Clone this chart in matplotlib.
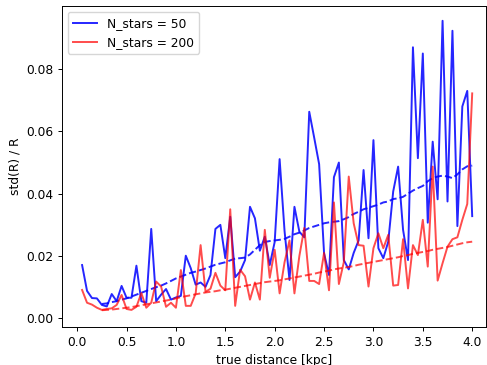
import numpy as np
import matplotlib
matplotlib.use('Agg')
import matplotlib.pyplot as plt

# distances (kpc), 0.05 step
dist = np.round(np.arange(1, 81) * 0.05, 2)

std_50 = [0.0171, 0.0088, 0.0065, 0.0064, 0.0043, 0.0038, 0.0078, 0.0055, 0.0104, 0.0066,
          0.0066, 0.0169, 0.0055, 0.0050, 0.0287, 0.0055, 0.0076, 0.0094, 0.0060, 0.0067,
          0.0072, 0.0201, 0.0161, 0.0108, 0.0115, 0.0101, 0.0139, 0.0287, 0.0300, 0.0193,
          0.0326, 0.0132, 0.0150, 0.0187, 0.0358, 0.0321, 0.0217, 0.0262, 0.0171, 0.0245,
          0.0511, 0.0280, 0.0123, 0.0358, 0.0278, 0.0260, 0.0663, 0.0580, 0.0495, 0.0209,
          0.0139, 0.0453, 0.0500, 0.0187, 0.0157, 0.0210, 0.0250, 0.0476, 0.0257, 0.0572,
          0.0225, 0.0193, 0.0246, 0.0407, 0.0487, 0.0284, 0.0187, 0.0870, 0.0514, 0.0850,
          0.0307, 0.0567, 0.0382, 0.0955, 0.0375, 0.0923, 0.0296, 0.0680, 0.0730, 0.0328]

std_200 = [0.0091, 0.0050, 0.0044, 0.0034, 0.0027, 0.0030, 0.0032, 0.0043, 0.0075, 0.0030,
           0.0027, 0.0037, 0.0081, 0.0034, 0.0050, 0.0118, 0.0102, 0.0037, 0.0050, 0.0034,
           0.0155, 0.0040, 0.0040, 0.0080, 0.0235, 0.0085, 0.0095, 0.0146, 0.0105, 0.0090,
           0.0350, 0.0040, 0.0156, 0.0135, 0.0060, 0.0115, 0.0060, 0.0284, 0.0130, 0.0220,
           0.0080, 0.0180, 0.0250, 0.0080, 0.0200, 0.0290, 0.0120, 0.0120, 0.0110, 0.0210,
           0.0090, 0.0372, 0.0110, 0.0180, 0.0455, 0.0305, 0.0235, 0.0233, 0.0102, 0.0225,
           0.0273, 0.0225, 0.0268, 0.0105, 0.0107, 0.0254, 0.0096, 0.0235, 0.0203, 0.0316,
           0.0166, 0.0487, 0.0121, 0.0177, 0.0230, 0.0254, 0.0260, 0.0316, 0.0367, 0.0722]

# smoothed trends, from 0.25 kpc on
trend_50 = [0.0046, 0.0048, 0.0052, 0.0055, 0.0060, 0.0064, 0.0070, 0.0076, 0.0082, 0.0088,
            0.0094, 0.0100, 0.0105, 0.0112, 0.0120, 0.0128, 0.0134, 0.0140, 0.0146, 0.0150,
            0.0155, 0.0160, 0.0166, 0.0172, 0.0176, 0.0180, 0.0186, 0.0192, 0.0193, 0.0195,
            0.0205, 0.0220, 0.0235, 0.0245, 0.0248, 0.0250, 0.0252, 0.0255, 0.0262, 0.0270,
            0.0275, 0.0282, 0.0290, 0.0295, 0.0300, 0.0305, 0.0308, 0.0310, 0.0312, 0.0318,
            0.0325, 0.0335, 0.0342, 0.0350, 0.0355, 0.0360, 0.0365, 0.0372, 0.0375, 0.0383,
            0.0385, 0.0390, 0.0400, 0.0410, 0.0418, 0.0425, 0.0440, 0.0450, 0.0455, 0.0458,
            0.0455, 0.0450, 0.0462, 0.0478, 0.0488, 0.0490]

trend_200 = [0.0026, 0.0027, 0.0028, 0.0030, 0.0032, 0.0034, 0.0036, 0.0039, 0.0042, 0.0045,
             0.0048, 0.0051, 0.0054, 0.0057, 0.0060, 0.0064, 0.0068, 0.0071, 0.0074, 0.0077,
             0.0080, 0.0083, 0.0085, 0.0087, 0.0090, 0.0092, 0.0095, 0.0098, 0.0101, 0.0104,
             0.0107, 0.0110, 0.0113, 0.0116, 0.0118, 0.0120, 0.0122, 0.0125, 0.0128, 0.0131,
             0.0134, 0.0137, 0.0140, 0.0143, 0.0147, 0.0150, 0.0153, 0.0157, 0.0160, 0.0162,
             0.0165, 0.0168, 0.0172, 0.0175, 0.0178, 0.0181, 0.0184, 0.0187, 0.0190, 0.0193,
             0.0196, 0.0200, 0.0203, 0.0207, 0.0210, 0.0213, 0.0216, 0.0220, 0.0223, 0.0226,
             0.0229, 0.0233, 0.0237, 0.0241, 0.0244, 0.0246]

trend_dist = dist[4:]

plt.rcParams.update({
    'font.size': 8.8,
    'xtick.major.size': 3.1, 'ytick.major.size': 3.1,
    'xtick.major.width': 0.7, 'ytick.major.width': 0.7,
    'axes.linewidth': 0.7,
    'xtick.major.pad': 3.1, 'ytick.major.pad': 3.1,
    'axes.labelpad': 3.5,
})

fig = plt.figure(figsize=(4.87, 3.65), dpi=100)
ax = fig.add_axes([0.127, 0.104, 0.871, 0.880])

ax.plot(dist, std_50, color='blue', alpha=0.85, lw=1.4, label='N_stars = 50')
ax.plot(trend_dist, trend_50, color='blue', alpha=0.85, lw=1.4, ls='--')
ax.plot(dist, std_200, color='red', alpha=0.7, lw=1.4, label='N_stars = 200')
ax.plot(trend_dist, trend_200, color='red', alpha=0.7, lw=1.4, ls='--')

ax.set_xlim(-0.155, 4.14)
ax.set_ylim(-0.0028, 0.1003)
ax.set_xticks([0.0, 0.5, 1.0, 1.5, 2.0, 2.5, 3.0, 3.5, 4.0])
ax.set_yticks([0.00, 0.02, 0.04, 0.06, 0.08])
ax.set_xlabel('true distance [kpc]')
ax.set_ylabel('std(R) / R')
ax.legend(loc='upper left')

plt.savefig('out.png', dpi=100)
